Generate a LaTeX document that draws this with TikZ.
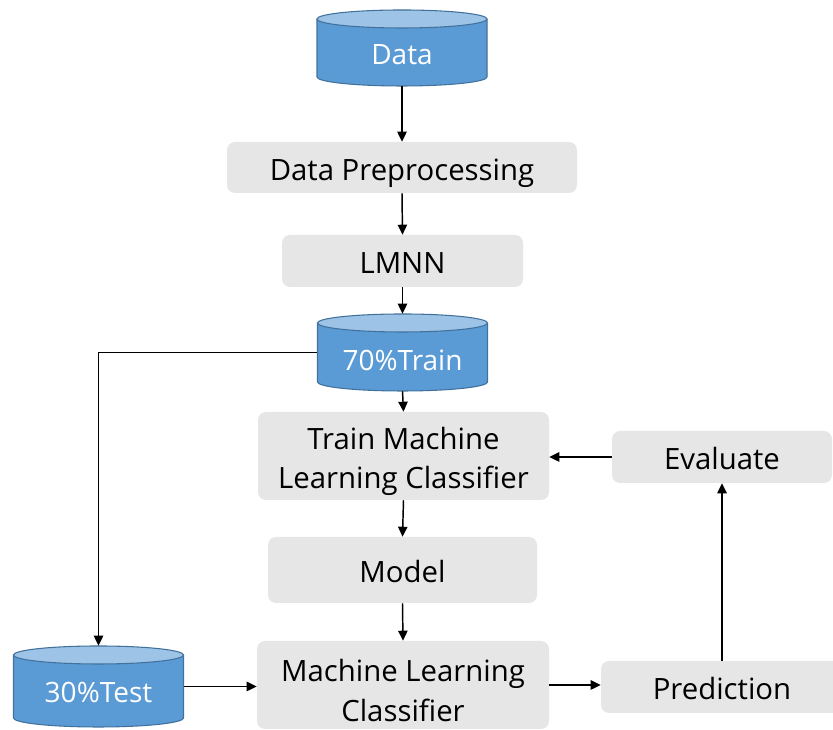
\documentclass[tikz,border=0pt]{standalone}
\usepackage{fontspec}
\setmainfont{Open Sans}
\usetikzlibrary{arrows.meta}

\definecolor{cylbody}{HTML}{5B9BD5}
\definecolor{cyltop}{HTML}{9DC3E6}
\definecolor{cylline}{HTML}{41719C}
\definecolor{boxgray}{HTML}{E7E6E6}

\tikzset{
  procbox/.style={fill=boxgray, draw=none, rounded corners=6pt, inner sep=0pt,
    align=center, text=black, font=\fontsize{22}{29.5}\selectfont},
  oneline/.style={procbox, text height=22pt, text depth=3.2pt},
  cylshape/.style={draw=none, inner sep=0pt, minimum width=127.5pt},
  cyltext/.style={text=white, inner sep=0pt, font=\fontsize{21}{26}\selectfont},
  flow/.style={-{Triangle[length=7.5pt,width=7pt]}, line width=1.1pt, black},
}

% database cylinder: name, centre x, top-ellipse y, bottom-arc y, text y, label
\newcommand\dbcyl[6]{%
  \fill[cylbody] (#2-85,#3) -- (#2-85,#4)
    arc[start angle=180, end angle=360, x radius=63.75pt, y radius=6.75pt]
    -- (#2+85,#3) -- cycle;
  \draw[cylline, line width=0.8pt] (#2-85,#3) -- (#2-85,#4)
    arc[start angle=180, end angle=360, x radius=63.75pt, y radius=6.75pt]
    -- (#2+85,#3);
  \filldraw[fill=cyltop, draw=cylline, line width=0.8pt]
    (#2,#3) ellipse[x radius=63.75pt, y radius=6.75pt];
  \node[cylshape, minimum height={(#3-#4+18)*0.75pt}] (#1) at (#2,{(#3+#4)/2}) {};
  \node[cyltext] (#1-label) at (#2,#5) {#6};
}

\begin{document}
\begin{tikzpicture}[x=0.75pt, y=0.75pt]
  \useasboundingbox (0,0) rectangle (833,730);
  \clip (0,0) rectangle (833,730);

  % data stores
  \dbcyl{data}{402}{711}{653}{675}{Data}
  \dbcyl{train}{402.5}{407}{348}{370}{70\%Train}
  \dbcyl{test}{98.5}{75}{12}{38}{30\%Test}

  % processing steps
  \node[oneline, minimum width=262.5pt, minimum height=38.25pt] (prep) at (402,562.5) {Data Preprocessing};
  \node[oneline, minimum width=180.75pt, minimum height=39pt] (lmnn) at (402.5,469) {LMNN};
  \node[procbox, minimum width=218.25pt, minimum height=66pt] (trainclf) at (403.5,274) {\rule{0pt}{25pt}Train Machine\\Learning Classifier};
  \node[oneline, minimum width=201.75pt, minimum height=49.5pt] (model) at (402.5,160) {Model};
  \node[procbox, minimum width=219pt, minimum height=66pt] (clf) at (403,45) {\rule{0pt}{25pt}Machine Learning\\Classifier};
  \node[oneline, minimum width=181.5pt, minimum height=39pt] (pred) at (722,43) {Prediction};
  \node[oneline, minimum width=165pt, minimum height=39pt] (eval) at (722,273) {Evaluate};

  % connectors
  \draw[flow] (data.south) -- (prep.north);
  \draw[flow] (prep.south) -- (lmnn.north);
  \draw[flow] (lmnn.south) -- (train.north);
  \draw[flow] (train.south) -- (trainclf.north);
  \draw[flow] (trainclf.south) -- (model.north);
  \draw[flow] (model.south) -- (clf.north);
  \draw[flow] (train.west) -| (test.north);
  \draw[flow] (test.east) -- (test.east -| clf.west);
  \draw[flow] (clf.east) -- (clf.east -| pred.west);
  \draw[flow] (pred.north) -- (eval.south);
  \draw[flow] (eval.west) -- (eval.west -| trainclf.east);
\end{tikzpicture}
\end{document}
